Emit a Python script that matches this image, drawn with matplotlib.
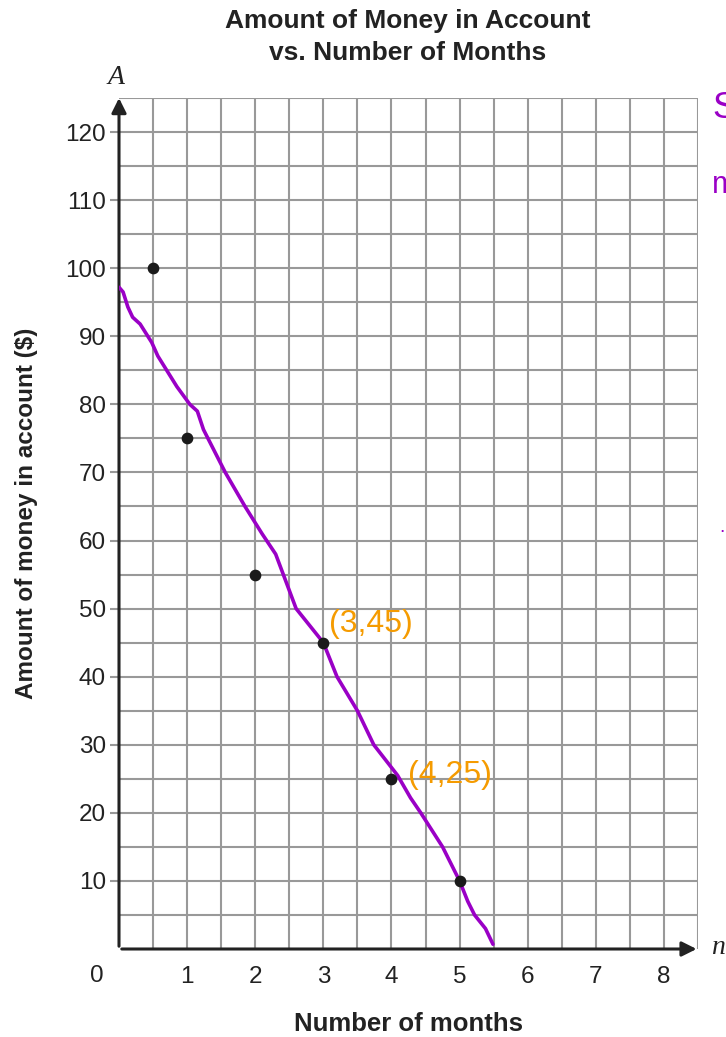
import matplotlib.pyplot as plt
import numpy as np

# data
months = [0.5, 1, 2, 3, 4, 5]
amount = [100, 75, 55, 45, 25, 10]

# hand-drawn purple line (approximate trace)
line_x = [0.0, 0.06, 0.13, 0.2, 0.31, 0.48, 0.57, 0.85, 1.04, 1.15, 1.24, 1.56, 1.85, 2.10, 2.3, 2.60, 3.0, 3.2, 3.5, 3.74, 4.09, 4.28, 4.43, 4.75, 5.0, 5.12, 5.22, 5.38, 5.49]
line_y = [97.2, 96.5, 94.3, 92.8, 91.8, 89.1, 87.1, 82.6, 80.0, 79.0, 76.3, 70, 65, 61, 58, 50, 45, 40, 35, 30, 25.5, 22.2, 20, 15, 10, 7, 5, 3, 0.7]

x_ticks = [1, 2, 3, 4, 5, 6, 7, 8]
y_ticks = [10, 20, 30, 40, 50, 60, 70, 80, 90, 100, 110, 120]

plt.rcParams['font.family'] = ['Liberation Sans', 'DejaVu Sans']

W, H = 726, 1037
fig = plt.figure(figsize=(7.26, 10.37), dpi=100)
ax = fig.add_axes([119/W, 1 - 949/H, (698-119)/W, (949-98)/H])
ax.set_xlim(0, 8.5)
ax.set_ylim(0, 125)

grid_c = '#999999'
for gx in np.arange(0.5, 8.51, 0.5):
    ax.axvline(gx, color=grid_c, lw=1.5, zorder=1)
for gy in np.arange(5, 125.1, 5):
    ax.axhline(gy, color=grid_c, lw=1.5, zorder=1)

for s in ax.spines.values():
    s.set_visible(False)

# axes with arrows
ax.annotate('', xy=(8.52, 0), xytext=(0, 0),
            arrowprops=dict(arrowstyle='-|>', color='#222222', lw=2.2, mutation_scale=22),
            annotation_clip=False, zorder=3)
ax.annotate('', xy=(0, 125.4), xytext=(0, 0),
            arrowprops=dict(arrowstyle='-|>', color='#222222', lw=2.2, mutation_scale=22),
            annotation_clip=False, zorder=3)

ax.set_xticks(x_ticks)
ax.set_xticklabels([str(v) for v in x_ticks])
ax.set_yticks(y_ticks)
ax.set_yticklabels([str(v) for v in y_ticks])
ax.tick_params(axis='x', length=0, pad=12, labelsize=17.5, labelcolor='#222222')
ax.tick_params(axis='y', length=6.5, width=1.5, color=grid_c, pad=3, labelsize=17.5, labelcolor='#222222')
ax.text(-0.32, -2.3, '0', ha='center', va='top', fontsize=17.5, color='#222222')

ax.plot(line_x, line_y, color='#9a00c6', lw=2.6, zorder=4, solid_capstyle='round', solid_joinstyle='round')
ax.scatter(months, amount, s=55, color='#1a1a1a', zorder=5)

# handwritten notes
orange = '#f59b00'
ax.text(3.08, 47.8, '(3,45)', color=orange, fontsize=23, va='center', ha='left', zorder=6)
ax.text(4.25, 25.5, '(4,25)', color=orange, fontsize=23, va='center', ha='left', zorder=6)
fig.text(712/W, 1 - 108/H, 'S', color='#9a00c6', fontsize=26, va='center', ha='left')
fig.text(712/W, 1 - 185/H, 'm', color='#9a00c6', fontsize=22, va='center', ha='left')
fig.text(722/W, 1 - 527/H, '.', color='#9a00c6', fontsize=14, va='center', ha='center')

fig.text(408/W, 1 - 21/H, 'Amount of Money in Account', fontsize=19, fontweight='bold',
         color='#222222', ha='center', va='center')
fig.text(408/W, 1 - 53/H, 'vs. Number of Months', fontsize=19, fontweight='bold',
         color='#222222', ha='center', va='center')
fig.text(409/W, 1 - 1024/H, 'Number of months', fontsize=18.5, fontweight='bold',
         color='#222222', ha='center', va='center')
fig.text(27/W, 1 - 513/H, 'Amount of money in account ($)', fontsize=17.5, fontweight='bold',
         color='#222222', ha='center', va='center', rotation=90)

fig.text(116/W, 1 - 78/H, 'A', family='Liberation Serif', style='italic', fontsize=20,
         ha='center', va='center', color='#222222')
fig.text(711/W, 1 - 947/H, 'n', family='Liberation Serif', style='italic', fontsize=20,
         ha='left', va='center', color='#222222')

fig.savefig('out.png', dpi=100)
